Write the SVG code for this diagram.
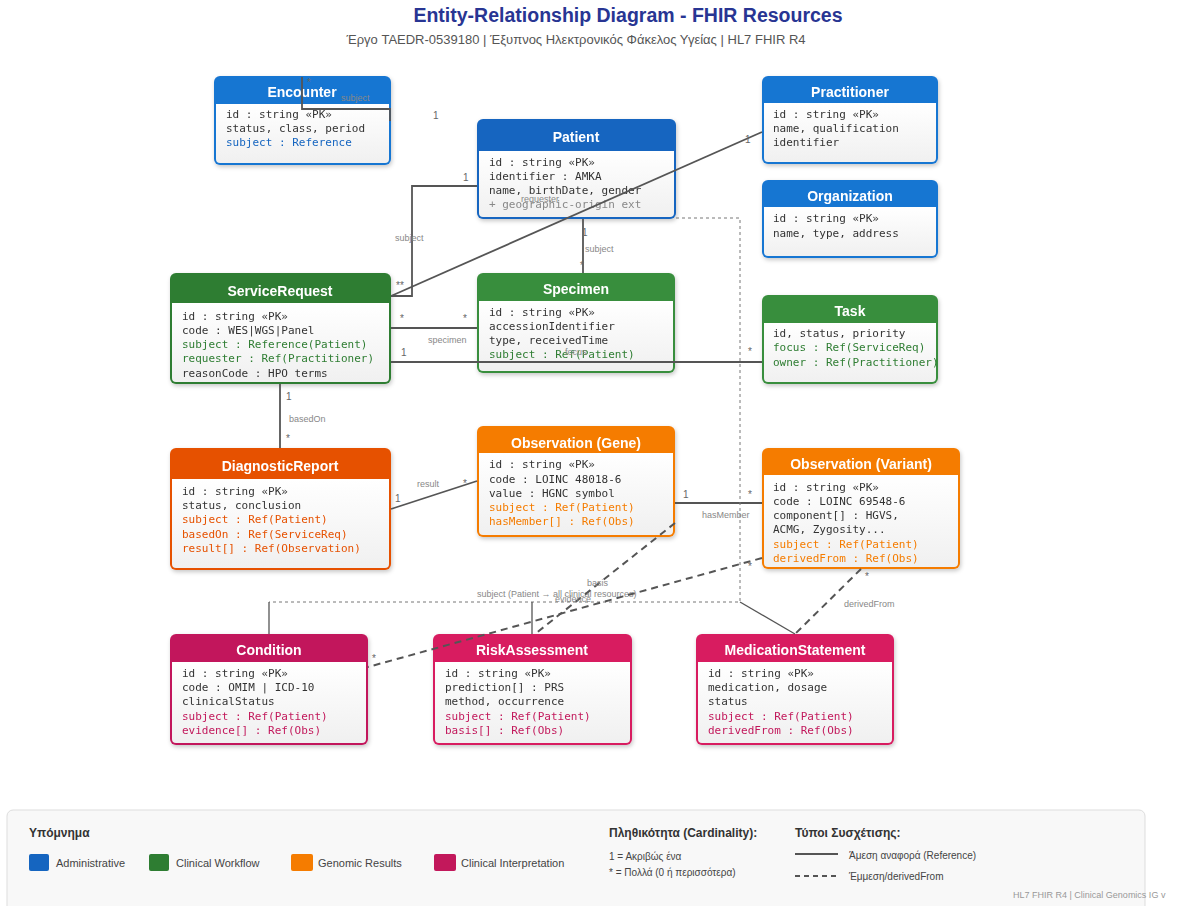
<svg xmlns="http://www.w3.org/2000/svg" width="1179" height="906" viewBox="0 0 1179 906">
  <defs>
    <linearGradient id="bodyGrad" x1="0" y1="0" x2="0" y2="1">
      <stop offset="0" stop-color="#ffffff"/>
      <stop offset="1" stop-color="#f0f0f0"/>
    </linearGradient>
    <filter id="shadow" x="-10%" y="-10%" width="130%" height="140%">
      <feDropShadow dx="1" dy="2" stdDeviation="2" flood-color="#000" flood-opacity="0.22"/>
    </filter>
  </defs>
  <style>
    .title { font-family: "Liberation Sans", Arial, sans-serif; font-weight: bold; font-size: 19.5px; fill: #283593; }
    .subtitle { font-family: "Liberation Sans", Arial, sans-serif; font-size: 13px; fill: #555; }
    .hdr { font-family: "Liberation Sans", Arial, sans-serif; font-weight: bold; font-size: 14px; fill: #fff; text-anchor: middle; }
    .attr { font-family: "DejaVu Sans Mono", "Liberation Mono", monospace; font-size: 11px; fill: #333; }
    .ext { fill: #888; }
    .ref-blue { fill: #1565c0; }
    .ref-green { fill: #2e7d32; }
    .ref-orange { fill: #f57c00; }
    .ref-dorange { fill: #e65100; }
    .ref-pink { fill: #c2185b; }
    .body { fill: url(#bodyGrad); }
    .conn { fill: none; stroke: #555; stroke-width: 1.8; }
    .conn-dash { fill: none; stroke: #555; stroke-width: 2; stroke-dasharray: 7 5; }
    .conn-thin { fill: none; stroke: #777; stroke-width: 1; stroke-dasharray: 3 3; }
    .conn-solid-thin { fill: none; stroke: #555; stroke-width: 1.3; }
    .card { font-family: "Liberation Sans", Arial, sans-serif; font-size: 10px; fill: #666; }
    .lbl { font-family: "Liberation Sans", Arial, sans-serif; font-size: 9px; fill: #888; }
    .lg-title { font-family: "Liberation Sans", Arial, sans-serif; font-weight: bold; font-size: 12px; fill: #333; }
    .lg-text { font-family: "Liberation Sans", Arial, sans-serif; font-size: 11px; fill: #444; }
    .lg-small { font-family: "Liberation Sans", Arial, sans-serif; font-size: 10px; fill: #444; }
    .foot { font-family: "Liberation Sans", Arial, sans-serif; font-size: 9px; fill: #999; }
  </style>

  <rect width="1179" height="906" fill="#ffffff"/>

  <!-- Heading -->
  <text class="title" x="628" y="22" text-anchor="middle">Entity-Relationship Diagram - FHIR Resources</text>
  <text class="subtitle" x="576" y="44" text-anchor="middle">Έργο TAEDR-0539180 | Έξυπνος Ηλεκτρονικός Φάκελος Υγείας | HL7 FHIR R4</text>

  <!-- Entities -->
  <g id="encounter" filter="url(#shadow)">
    <rect x="214" y="76" width="177" height="89" rx="6" fill="#1976d2"/>
    <path class="body" d="M216,104 H389 V159 a4,4 0 0 1 -4,4 H220 a4,4 0 0 1 -4,-4 Z"/>
    <text class="hdr" x="302" y="97">Encounter</text>
    <text class="attr" x="226" y="118">id : string «PK»</text>
    <text class="attr" x="226" y="132">status, class, period</text>
    <text class="attr ref-blue" x="226" y="146">subject : Reference</text>
  </g>

  <g id="patient" filter="url(#shadow)">
    <rect x="477" y="119" width="199" height="100" rx="6" fill="#1565c0"/>
    <path class="body" d="M479,151 H674 V213 a4,4 0 0 1 -4,4 H483 a4,4 0 0 1 -4,-4 Z"/>
    <text class="hdr" x="576" y="142">Patient</text>
    <text class="attr" x="489" y="166">id : string «PK»</text>
    <text class="attr" x="489" y="180">identifier : AMKA</text>
    <text class="attr" x="489" y="194">name, birthDate, gender</text>
    <text class="attr ext" x="489" y="208">+ geographic-origin ext</text>
  </g>

  <g id="practitioner" filter="url(#shadow)">
    <rect x="762" y="76" width="176" height="88" rx="6" fill="#1976d2"/>
    <path class="body" d="M764,103 H936 V158 a4,4 0 0 1 -4,4 H768 a4,4 0 0 1 -4,-4 Z"/>
    <text class="hdr" x="850" y="97">Practitioner</text>
    <text class="attr" x="773" y="118">id : string «PK»</text>
    <text class="attr" x="773" y="132">name, qualification</text>
    <text class="attr" x="773" y="146">identifier</text>
  </g>

  <g id="organization" filter="url(#shadow)">
    <rect x="762" y="180" width="176" height="78" rx="6" fill="#1976d2"/>
    <path class="body" d="M764,207 H936 V252 a4,4 0 0 1 -4,4 H768 a4,4 0 0 1 -4,-4 Z"/>
    <text class="hdr" x="850" y="201">Organization</text>
    <text class="attr" x="773" y="222">id : string «PK»</text>
    <text class="attr" x="773" y="237">name, type, address</text>
  </g>

  <g id="service-request" filter="url(#shadow)">
    <rect x="170" y="273" width="221" height="111" rx="6" fill="#2e7d32"/>
    <path class="body" d="M172,303 H389 V378 a4,4 0 0 1 -4,4 H176 a4,4 0 0 1 -4,-4 Z"/>
    <text class="hdr" x="280" y="296">ServiceRequest</text>
    <text class="attr" x="182" y="320">id : string «PK»</text>
    <text class="attr" x="182" y="334">code : WES|WGS|Panel</text>
    <text class="attr ref-green" x="182" y="348">subject : Reference(Patient)</text>
    <text class="attr ref-green" x="182" y="362">requester : Ref(Practitioner)</text>
    <text class="attr" x="182" y="377">reasonCode : HPO terms</text>
  </g>

  <g id="specimen" filter="url(#shadow)">
    <rect x="477" y="273" width="198" height="100" rx="6" fill="#388e3c"/>
    <path class="body" d="M479,301 H673 V367 a4,4 0 0 1 -4,4 H483 a4,4 0 0 1 -4,-4 Z"/>
    <text class="hdr" x="576" y="294">Specimen</text>
    <text class="attr" x="489" y="316">id : string «PK»</text>
    <text class="attr" x="489" y="330">accessionIdentifier</text>
    <text class="attr" x="489" y="344">type, receivedTime</text>
    <text class="attr ref-green" x="489" y="358">subject : Ref(Patient)</text>
  </g>

  <g id="task" filter="url(#shadow)">
    <rect x="762" y="295" width="176" height="89" rx="6" fill="#388e3c"/>
    <path class="body" d="M764,323 H936 V378 a4,4 0 0 1 -4,4 H768 a4,4 0 0 1 -4,-4 Z"/>
    <text class="hdr" x="850" y="316">Task</text>
    <text class="attr" x="773" y="337">id, status, priority</text>
    <text class="attr ref-green" x="773" y="351">focus : Ref(ServiceReq)</text>
    <text class="attr ref-green" x="773" y="366">owner : Ref(Practitioner)</text>
  </g>

  <g id="diagnostic-report" filter="url(#shadow)">
    <rect x="170" y="448" width="221" height="122" rx="6" fill="#e65100"/>
    <path class="body" d="M172,479 H389 V564 a4,4 0 0 1 -4,4 H176 a4,4 0 0 1 -4,-4 Z"/>
    <text class="hdr" x="280" y="471">DiagnosticReport</text>
    <text class="attr" x="182" y="495">id : string «PK»</text>
    <text class="attr" x="182" y="509">status, conclusion</text>
    <text class="attr ref-dorange" x="182" y="523">subject : Ref(Patient)</text>
    <text class="attr ref-dorange" x="182" y="538">basedOn : Ref(ServiceReq)</text>
    <text class="attr ref-dorange" x="182" y="552">result[] : Ref(Observation)</text>
  </g>

  <g id="observation-gene" filter="url(#shadow)">
    <rect x="477" y="426" width="198" height="111" rx="6" fill="#f57c00"/>
    <path class="body" d="M479,453 H673 V531 a4,4 0 0 1 -4,4 H483 a4,4 0 0 1 -4,-4 Z"/>
    <text class="hdr" x="576" y="448">Observation (Gene)</text>
    <text class="attr" x="489" y="468">id : string «PK»</text>
    <text class="attr" x="489" y="483">code : LOINC 48018-6</text>
    <text class="attr" x="489" y="497">value : HGNC symbol</text>
    <text class="attr ref-orange" x="489" y="511">subject : Ref(Patient)</text>
    <text class="attr ref-orange" x="489" y="525">hasMember[] : Ref(Obs)</text>
  </g>

  <g id="observation-variant" filter="url(#shadow)">
    <rect x="762" y="448" width="198" height="121" rx="6" fill="#f57c00"/>
    <path class="body" d="M764,475 H958 V563 a4,4 0 0 1 -4,4 H768 a4,4 0 0 1 -4,-4 Z"/>
    <text class="hdr" x="861" y="469">Observation (Variant)</text>
    <text class="attr" x="773" y="491">id : string «PK»</text>
    <text class="attr" x="773" y="505">code : LOINC 69548-6</text>
    <text class="attr" x="773" y="519">component[] : HGVS,</text>
    <text class="attr" x="773" y="533">ACMG, Zygosity...</text>
    <text class="attr ref-orange" x="773" y="548">subject : Ref(Patient)</text>
    <text class="attr ref-orange" x="773" y="562">derivedFrom : Ref(Obs)</text>
  </g>

  <g id="condition" filter="url(#shadow)">
    <rect x="170" y="634" width="198" height="111" rx="6" fill="#c2185b"/>
    <path class="body" d="M172,662 H366 V739 a4,4 0 0 1 -4,4 H176 a4,4 0 0 1 -4,-4 Z"/>
    <text class="hdr" x="269" y="655">Condition</text>
    <text class="attr" x="182" y="677">id : string «PK»</text>
    <text class="attr" x="182" y="691">code : OMIM | ICD-10</text>
    <text class="attr" x="182" y="705">clinicalStatus</text>
    <text class="attr ref-pink" x="182" y="720">subject : Ref(Patient)</text>
    <text class="attr ref-pink" x="182" y="734">evidence[] : Ref(Obs)</text>
  </g>

  <g id="risk-assessment" filter="url(#shadow)">
    <rect x="433" y="634" width="199" height="111" rx="6" fill="#d81b60"/>
    <path class="body" d="M435,662 H630 V739 a4,4 0 0 1 -4,4 H439 a4,4 0 0 1 -4,-4 Z"/>
    <text class="hdr" x="532" y="655">RiskAssessment</text>
    <text class="attr" x="445" y="677">id : string «PK»</text>
    <text class="attr" x="445" y="691">prediction[] : PRS</text>
    <text class="attr" x="445" y="705">method, occurrence</text>
    <text class="attr ref-pink" x="445" y="720">subject : Ref(Patient)</text>
    <text class="attr ref-pink" x="445" y="734">basis[] : Ref(Obs)</text>
  </g>

  <g id="medication-statement" filter="url(#shadow)">
    <rect x="696" y="634" width="198" height="111" rx="6" fill="#d81b60"/>
    <path class="body" d="M698,662 H892 V739 a4,4 0 0 1 -4,4 H702 a4,4 0 0 1 -4,-4 Z"/>
    <text class="hdr" x="795" y="655">MedicationStatement</text>
    <text class="attr" x="708" y="677">id : string «PK»</text>
    <text class="attr" x="708" y="691">medication, dosage</text>
    <text class="attr" x="708" y="705">status</text>
    <text class="attr ref-pink" x="708" y="720">subject : Ref(Patient)</text>
    <text class="attr ref-pink" x="708" y="734">derivedFrom : Ref(Obs)</text>
  </g>

  <!-- Relationships -->
  <g id="connectors">
    <!-- Encounter.subject -> Patient -->
    <polyline class="conn" points="302,77 302,109 390,109 390,121"/>
    <text class="card" x="307" y="86">*</text>
    <text class="lbl" x="341" y="101" fill="#9ab">subject</text>
    <text class="card" x="433" y="119">1</text>

    <!-- ServiceRequest.subject -> Patient -->
    <polyline class="conn" points="391,296 412,296 412,186 477,186"/>
    <text class="card" x="396" y="289">**</text>
    <text class="lbl" x="395" y="241">subject</text>
    <text class="card" x="463" y="181">1</text>

    <!-- ServiceRequest.requester -> Practitioner -->
    <line class="conn" x1="391" y1="296" x2="762" y2="132"/>
    <text class="lbl" x="521" y="202">requester</text>
    <text class="card" x="745" y="143">1</text>

    <!-- Specimen.subject -> Patient -->
    <line class="conn" x1="583" y1="219" x2="583" y2="273"/>
    <text class="card" x="582" y="236">1</text>
    <text class="lbl" x="585" y="252">subject</text>
    <text class="card" x="580" y="269">*</text>

    <!-- ServiceRequest -> Specimen -->
    <line class="conn" x1="391" y1="328" x2="477" y2="328"/>
    <text class="card" x="400" y="322">*</text>
    <text class="card" x="463" y="322">*</text>
    <text class="lbl" x="428" y="343">specimen</text>

    <!-- Task.focus -> ServiceRequest -->
    <line class="conn" x1="391" y1="362" x2="762" y2="362"/>
    <text class="card" x="401" y="356">1</text>
    <text class="lbl" x="565" y="355">focus</text>
    <text class="card" x="748" y="355">*</text>

    <!-- DiagnosticReport.basedOn -> ServiceRequest -->
    <line class="conn" x1="280" y1="384" x2="280" y2="448"/>
    <text class="card" x="286" y="400">1</text>
    <text class="lbl" x="289" y="422">basedOn</text>
    <text class="card" x="286" y="442">*</text>

    <!-- DiagnosticReport.result -> Observation (Gene) -->
    <line class="conn" x1="391" y1="509" x2="477" y2="481"/>
    <text class="card" x="395" y="502">1</text>
    <text class="lbl" x="417" y="487">result</text>
    <text class="card" x="463" y="487">*</text>

    <!-- Observation (Gene).hasMember -> Observation (Variant) -->
    <line class="conn" x1="675" y1="503" x2="762" y2="503"/>
    <text class="card" x="683" y="498">1</text>
    <text class="lbl" x="702" y="518">hasMember</text>
    <text class="card" x="748" y="498">*</text>

    <!-- Patient -> all clinical resources -->
    <polyline class="conn-thin" points="676,218 740,218 740,602 269,602"/>
    <line class="conn-solid-thin" x1="269" y1="602" x2="269" y2="634"/>
    <line class="conn-solid-thin" x1="532" y1="602" x2="532" y2="634"/>
    <line class="conn-solid-thin" x1="740" y1="602" x2="795" y2="634"/>
    <text class="lbl" x="477" y="597">subject (Patient → all clinical resources)</text>

    <!-- RiskAssessment.basis -> Observation (Gene) -->
    <line class="conn-dash" x1="675" y1="523" x2="535" y2="634"/>
    <text class="lbl" x="587" y="586">basis</text>

    <!-- Condition.evidence -> Observation (Variant) -->
    <line class="conn-dash" x1="762" y1="558" x2="368" y2="667"/>
    <text class="lbl" x="555" y="602">evidence</text>
    <text class="card" x="372" y="662">*</text>
    <text class="card" x="748" y="570">*</text>

    <!-- MedicationStatement.derivedFrom -> Observation (Variant) -->
    <line class="conn-dash" x1="861" y1="569" x2="795" y2="634"/>
    <text class="card" x="865" y="580">*</text>
    <text class="lbl" x="844" y="607">derivedFrom</text>
  </g>

  <!-- Legend -->
  <g id="legend">
    <rect x="7" y="810" width="1138" height="110" rx="6" fill="#f8f8f8" stroke="#dddddd" stroke-width="1"/>
    <text class="lg-title" x="29" y="837">Υπόμνημα</text>

    <rect x="29" y="854" width="20" height="17" rx="2" fill="#1565c0"/>
    <text class="lg-text" x="56" y="867">Administrative</text>
    <rect x="149" y="854" width="20" height="17" rx="2" fill="#2e7d32"/>
    <text class="lg-text" x="176" y="867">Clinical Workflow</text>
    <rect x="291" y="854" width="22" height="17" rx="2" fill="#f57c00"/>
    <text class="lg-text" x="318" y="867">Genomic Results</text>
    <rect x="434" y="854" width="22" height="17" rx="2" fill="#c2185b"/>
    <text class="lg-text" x="461" y="867">Clinical Interpretation</text>

    <text class="lg-title" x="609" y="837">Πληθικότητα (Cardinality):</text>
    <text class="lg-small" x="609" y="860">1 = Ακριβώς ένα</text>
    <text class="lg-small" x="609" y="876">* = Πολλά (0 ή περισσότερα)</text>

    <text class="lg-title" x="795" y="837">Τύποι Συσχέτισης:</text>
    <line x1="795" y1="854" x2="838" y2="854" stroke="#555" stroke-width="1.8"/>
    <text class="lg-small" x="849" y="859">Άμεση αναφορά (Reference)</text>
    <line x1="795" y1="876" x2="838" y2="876" stroke="#555" stroke-width="1.8" stroke-dasharray="5 4"/>
    <text class="lg-small" x="849" y="880">Έμμεση/derivedFrom</text>
  </g>

  <text class="foot" x="1013" y="898">HL7 FHIR R4 | Clinical Genomics IG v</text>
</svg>
